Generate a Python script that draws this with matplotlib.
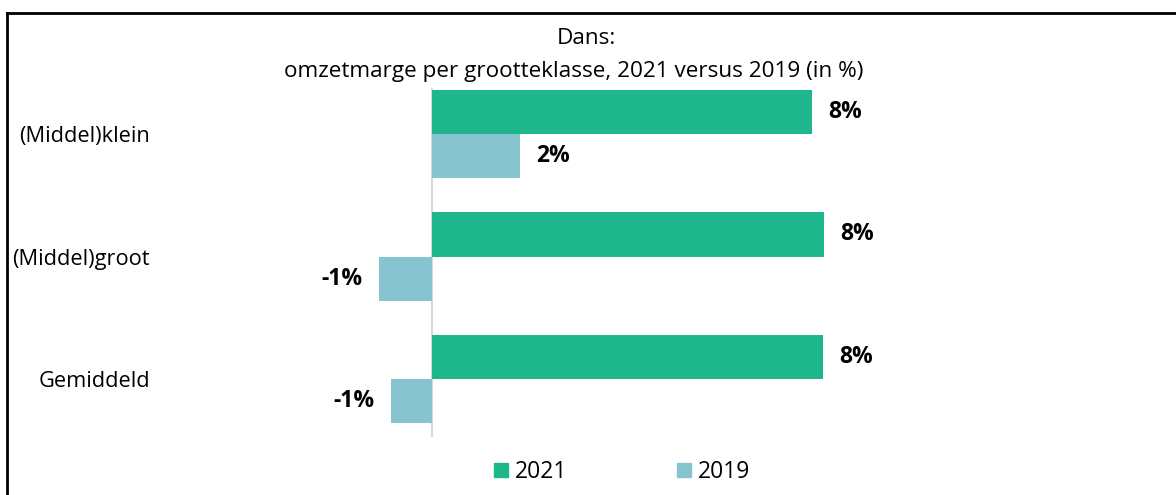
import matplotlib.pyplot as plt
from matplotlib.lines import Line2D
from matplotlib.patches import Patch
import numpy as np

plt.rcParams['font.family'] = ['Open Sans', 'DejaVu Sans']

categories = ["(Middel)klein", "(Middel)groot", "Gemiddeld"]
series_names = ["2021", "2019"]
values_2021 = [8.0, 8.25, 8.23]
values_2019 = [1.85, -1.12, -0.86]
colors = ["#1DB78B", "#88C4CF"]

fig = plt.figure(figsize=(11.76, 4.95), dpi=100)
ax = fig.add_axes([150 / 1176, (495 - 437) / 495, (1100 - 150) / 1176, (437 - 88) / 495])

y = np.arange(len(categories))
h = 0.36
ax.barh(y - h / 2, values_2021, height=h, color=colors[0])
ax.barh(y + h / 2, values_2019, height=h, color=colors[1])

for yy, v in zip(y - h / 2, values_2021):
    ax.annotate(f"{v:.0f}%", (v, yy), xytext=(12, 0), textcoords="offset points",
                ha="left", va="center", fontsize=16.5, fontweight="bold")
for yy, v in zip(y + h / 2, values_2019):
    ax.annotate(f"{v:.0f}%", (v, yy), xytext=(12 if v >= 0 else -12, 0), textcoords="offset points",
                ha="left" if v >= 0 else "right", va="center", fontsize=16.5, fontweight="bold")

ax.axvline(0, color="#d9d9d9", lw=1.5, zorder=0)
ax.set_xlim(-(432 - 150) / 47.5, (1100 - 432) / 47.5)
ax.set_ylim(2 + 58 / 122.5, -46 / 122.5)
ax.set_yticks(y)
ax.set_yticklabels(categories, fontsize=15.7)
ax.tick_params(axis="y", length=0, pad=0)
ax.set_xticks([])
for s in ax.spines.values():
    s.set_visible(False)

fig.text(586 / 1176, 1 - 38 / 495, "Dans:", ha="center", va="center", fontsize=16.2)
fig.text(573.5 / 1176, 1 - 72 / 495, "omzetmarge per grootteklasse, 2021 versus 2019 (in %)",
         ha="center", va="center", fontsize=16.2)

handles = [Patch(color=c, label=n) for c, n in zip(colors, series_names)]
fig.legend(handles=handles, loc="center", bbox_to_anchor=(622 / 1176, 1 - 472 / 495), ncol=2,
           frameon=False, fontsize=16.5, handlelength=0.6, handleheight=0.6, handletextpad=0.3,
           columnspacing=4.8)

# rand: alleen boven en links
fig.add_artist(Line2D([7 / 1176, 1], [1 - 13 / 495, 1 - 13 / 495], color="black", lw=2))
fig.add_artist(Line2D([7 / 1176, 7 / 1176], [0, 1 - 13 / 495], color="black", lw=2))

fig.savefig("out.png", dpi=100)
